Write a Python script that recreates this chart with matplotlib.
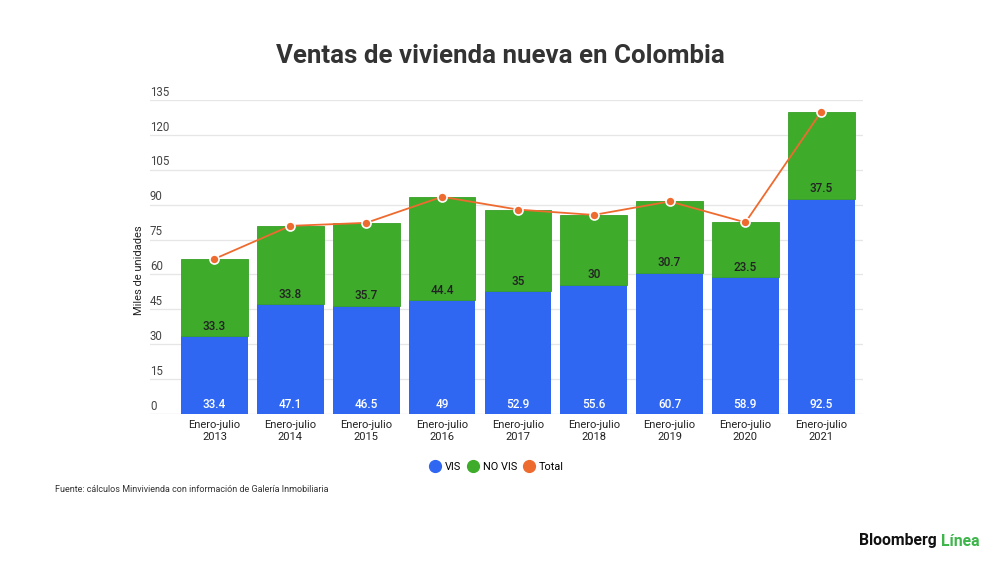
import numpy as np
import matplotlib.pyplot as plt
from matplotlib.lines import Line2D

plt.rcParams["font.family"] = ["Roboto", "DejaVu Sans"]

years = ["2013", "2014", "2015", "2016", "2017", "2018", "2019", "2020", "2021"]
vis = [33.4, 47.1, 46.5, 49, 52.9, 55.6, 60.7, 58.9, 92.5]
no_vis = [33.3, 33.8, 35.7, 44.4, 35, 30, 30.7, 23.5, 37.5]
total = [66.7, 80.9, 82.2, 93.4, 87.9, 85.6, 91.4, 82.4, 130.0]
y_ticks = [0, 15, 30, 45, 60, 75, 90, 105, 120, 135]

BLUE = "#2f67f3"
GREEN = "#3fab2b"
ORANGE = "#ee6b30"
GRID = "#e6e6e6"

fig = plt.figure(figsize=(10, 5.62), dpi=100)
ax = fig.add_axes([0.15, 0.2633, 0.713, 0.5587])

x = np.arange(len(years))
w = 0.88

ax.bar(x, vis, width=w, color=BLUE, zorder=2)
ax.bar(x, no_vis, width=w, bottom=vis, color=GREEN, edgecolor="#37a026",
       linewidth=0.6, zorder=2)
ax.plot(x, total, color=ORANGE, linewidth=1.3, zorder=3)
ax.plot(x, total, "o", color=ORANGE, markersize=6.5, markeredgecolor="white",
        markeredgewidth=1.2, zorder=4)

for i in range(len(years)):
    ax.annotate(f"{vis[i]:g}", (x[i], 0), xytext=(0, 2.5), textcoords="offset points",
                ha="center", va="bottom", color="white", fontsize=8.5,
                fontweight="medium", zorder=5)
    ax.annotate(f"{no_vis[i]:g}", (x[i], vis[i]), xytext=(0, 2.5),
                textcoords="offset points", ha="center", va="bottom",
                color="#222222", fontsize=8.5, fontweight="medium", zorder=5)

ax.set_xlim(-0.85, 8.55)
ax.set_ylim(0, 135)

# gridlines with labels sitting above them, Google-chart style
for t in y_ticks:
    ax.axhline(t, color=GRID if t else "#d0d0d0", linewidth=0.9, zorder=1)
    ax.annotate(str(t), (0, t), xycoords=ax.get_yaxis_transform(),
                xytext=(0, 1), textcoords="offset points", ha="left", va="bottom",
                fontsize=8.3, color="#444444")

ax.set_yticks([])
ax.set_xticks(x)
ax.set_xticklabels([f"Enero-julio\n{y}" for y in years], fontsize=8, color="#222222",
                   linespacing=1.35)
ax.tick_params(axis="x", length=0, pad=4)
for s in ax.spines.values():
    s.set_visible(False)

fig.text(0.139, 1 - 270 / 562, "Miles de unidades", rotation=90, ha="center",
         va="center", fontsize=8, color="#222222")

fig.text(0.5, 1 - 56 / 562, "Ventas de vivienda nueva en Colombia", ha="center",
         va="center", fontsize=18.6, fontweight="bold", color="#333333")

handles = [
    Line2D([], [], marker="o", linestyle="", color=BLUE, markersize=8.5),
    Line2D([], [], marker="o", linestyle="", color=GREEN, markersize=8.5),
    Line2D([], [], marker="o", linestyle="", color=ORANGE, markersize=8.5),
]
fig.legend(handles, ["VIS", "NO VIS", "Total"], loc="center",
           bbox_to_anchor=(0.497, 1 - 467 / 562), ncol=3, frameon=False,
           fontsize=7.8, handlelength=1.0, handletextpad=0.4, columnspacing=0.6)

fig.text(0.055, 1 - 490 / 562,
         "Fuente: cálculos Minvivienda con información de Galería Inmobiliaria",
         ha="left", va="center", fontsize=6.5, color="#333333")

fig.text(0.937, 1 - 541 / 562, "Bloomberg", ha="right", va="center",
         fontsize=11.3, fontweight="bold", color="#111111")
fig.text(0.979, 1 - 541 / 562, "Línea", ha="right", va="center",
         fontsize=11.3, fontweight="bold", color="#3db54a")

fig.savefig("out.png", dpi=100)
